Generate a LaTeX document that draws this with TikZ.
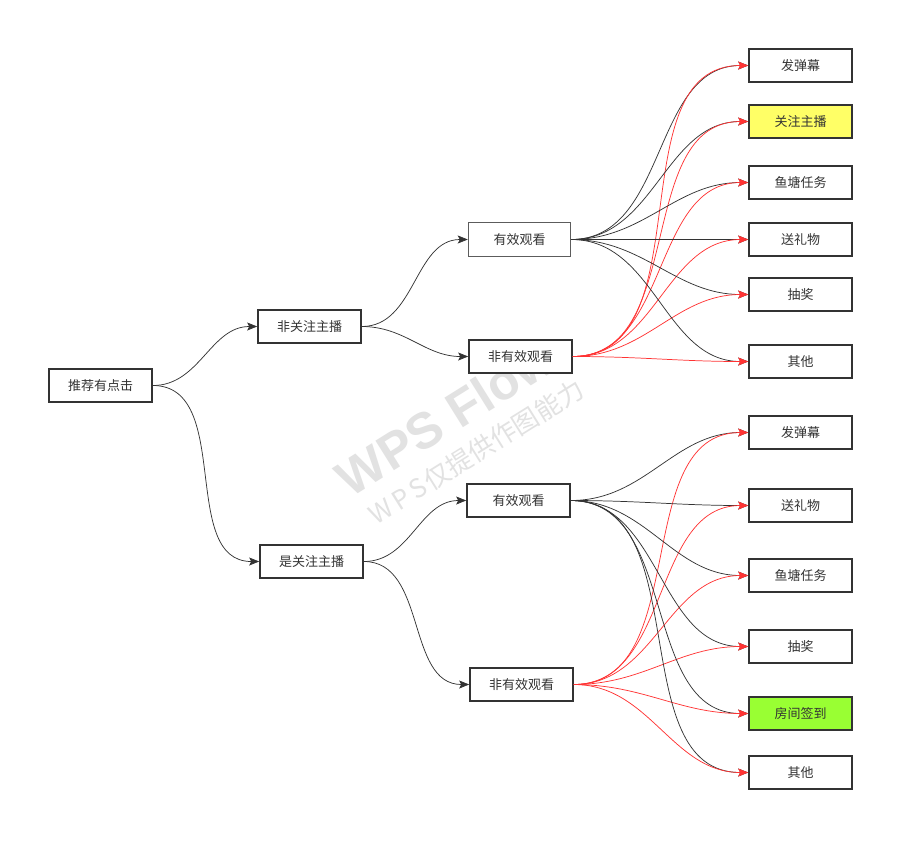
\documentclass[tikz,border=0pt]{standalone}
\usepackage{fontspec}
\newfontfamily\cjk{Noto Sans CJK SC}
\newfontfamily\markfont{Liberation Sans}
\usetikzlibrary{arrows.meta}
\definecolor{boxline}{HTML}{333333}
\definecolor{redline}{HTML}{FF3333}
\definecolor{hiyellow}{HTML}{FFFF66}
\definecolor{higreen}{HTML}{99FF33}
\definecolor{markgray}{HTML}{E2E2E2}

\begin{document}
\begin{tikzpicture}[x=0.75pt, y=-0.75pt,
    box/.style={draw=boxline, line width=1.5pt, fill=white, text=boxline, font=\cjk\fontsize{9.75}{12}\selectfont, minimum width=77pt, minimum height=25pt, inner sep=0pt},
    thinbox/.style={box, line width=0.6pt, draw=boxline!80},
    edge/.style={draw=boxline, line width=0.55pt, -{Stealth[length=7.5pt, width=6pt, inset=1.5pt]}},
    redge/.style={edge, draw=redline, -{Stealth[length=7.5pt, width=6pt, inset=1.5pt, fill=redline]}},
    watermark/.style={rotate=32, text=markgray}]
    \fill[white] (0,0) rectangle (914,851);
    \useasboundingbox (0,0) rectangle (914,851);
    % watermark
    \node[watermark, font=\markfont\bfseries\fontsize{38}{38}\selectfont] (marktitle) at (445,418) {WPS Flow};
    \node[watermark, font=\cjk\fontsize{19.5}{19.5}\selectfont] (marksub) at (476,452) {W\hspace{3pt}P\hspace{3pt}S\hspace{2pt}仅提供作图能力};
    % tree
    \node[box] (root) at (100.5,385.5) {推荐有点击};
    \node[box] (nofan) at (309.5,326.5) {非关注主播};
    \node[box] (fan) at (311.5,561.5) {是关注主播};
    \node[thinbox] (topwatch) at (519.5,239.5) {有效观看};
    \node[box] (topskip) at (520.5,356.5) {非有效观看};
    \node[box] (lowwatch) at (518.5,500.5) {有效观看};
    \node[box] (lowskip) at (521.5,684.5) {非有效观看};
    % actions, upper group
    \node[box] (t1) at (800.5,65.5) {发弹幕};
    \node[box, fill=hiyellow] (t2) at (800.5,121.5) {关注主播};
    \node[box] (t3) at (800.5,182.5) {鱼塘任务};
    \node[box] (t4) at (800.5,239.5) {送礼物};
    \node[box] (t5) at (800.5,294.5) {抽奖};
    \node[box] (t6) at (800.5,361.5) {其他};
    % actions, lower group
    \node[box] (b1) at (800.5,432.5) {发弹幕};
    \node[box] (b2) at (800.5,505.5) {送礼物};
    \node[box] (b3) at (800.5,575.5) {鱼塘任务};
    \node[box] (b4) at (800.5,646.5) {抽奖};
    \node[box, fill=higreen] (b5) at (800.5,713.5) {房间签到};
    \node[box] (b6) at (800.5,772.5) {其他};

    \draw[edge] (root.east) to[out=0, in=180] (nofan.west);
    \draw[edge] (root.east) to[out=0, in=180] (fan.west);
    \draw[edge] (nofan.east) to[out=0, in=180] (topwatch.west);
    \draw[edge] (nofan.east) to[out=0, in=180] (topskip.west);
    \draw[edge] (fan.east) to[out=0, in=180] (lowwatch.west);
    \draw[edge] (fan.east) to[out=0, in=180] (lowskip.west);
    \foreach \i in {1,...,6} {
      \draw[edge] (topwatch.east) to[out=0, in=180] (t\i.west);
      \draw[redge] (topskip.east) to[out=0, in=180] (t\i.west);
      \draw[edge] (lowwatch.east) to[out=0, in=180] (b\i.west);
      \draw[redge] (lowskip.east) to[out=0, in=180] (b\i.west);
    }
  \end{tikzpicture}
\end{document}
